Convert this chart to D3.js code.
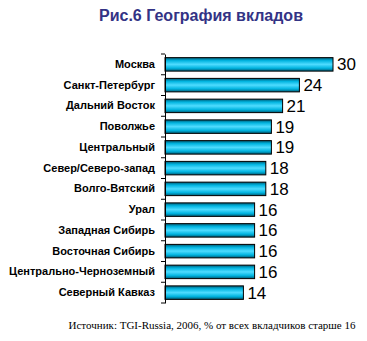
<!DOCTYPE html>
<html>
<head>
<meta charset="utf-8">
<script src="https://cdn.jsdelivr.net/npm/d3@7"></script>
<style>
  body { margin: 0; background: #fff; }
</style>
</head>
<body>
<div id="chart"></div>
<script>
// Chart data
var regions = ["Москва", "Санкт-Петербург", "Дальний Восток", "Поволжье", "Центральный",
  "Север/Северо-запад", "Волго-Вятский", "Урал", "Западная Сибирь", "Восточная Сибирь",
  "Центрально-Черноземный", "Северный Кавказ"];
var shares = [30, 24, 21, 19, 19, 18, 18, 16, 16, 16, 16, 14];
var title = "Рис.6 География вкладов";
var source = "Источник: TGI-Russia, 2006, % от всех вкладчиков старше 16";

var width = 367, height = 341;
var margin = {top: 54, right: 34, bottom: 38, left: 165};

var svg = d3.select("#chart")
  .append("svg")
    .attr("width", width)
    .attr("height", height);

// Gradient for bars
var grad = svg.append("defs").append("linearGradient")
  .attr("id", "barGrad")
  .attr("x1", 0).attr("y1", 0).attr("x2", 0).attr("y2", 1);
grad.append("stop").attr("offset", "0%").attr("stop-color", "#005a73");
grad.append("stop").attr("offset", "22%").attr("stop-color", "#00b4e0");
grad.append("stop").attr("offset", "50%").attr("stop-color", "#4fdcff");
grad.append("stop").attr("offset", "78%").attr("stop-color", "#00b4e0");
grad.append("stop").attr("offset", "100%").attr("stop-color", "#005a73");

// Scales
var x = d3.scaleLinear()
  .domain([0, 30])
  .range([margin.left, margin.left + 168]);

var y = d3.scaleBand()
  .domain(regions)
  .range([margin.top, height - margin.bottom])
  .paddingInner(0.35)
  .paddingOuter(0.175);

// Title
svg.append("text")
  .attr("x", 201)
  .attr("y", 21)
  .attr("text-anchor", "middle")
  .style("font-family", "Arial, 'Liberation Sans', sans-serif")
  .style("font-size", "16px")
  .style("font-weight", "bold")
  .style("fill", "#333385")
  .text(title);

// Bars
svg.selectAll("rect.bar")
  .data(regions)
  .enter()
  .append("rect")
    .attr("class", "bar")
    .attr("x", x(0))
    .attr("y", d => y(d))
    .attr("width", (d, i) => x(shares[i]) - x(0))
    .attr("height", y.bandwidth())
    .attr("fill", "url(#barGrad)")
    .attr("stroke", "#000")
    .attr("stroke-width", 1);

// Value labels
svg.selectAll("text.val")
  .data(regions)
  .enter()
  .append("text")
    .attr("class", "val")
    .attr("x", (d, i) => x(shares[i]) + 4)
    .attr("y", d => y(d) + y.bandwidth() / 2)
    .attr("dy", "0.36em")
    .style("font-family", "Arial, 'Liberation Sans', sans-serif")
    .style("font-size", "17px")
    .text((d, i) => shares[i]);

// Y axis with category labels
var y_axis = svg.append("g")
  .attr("transform", `translate(${margin.left},0)`)
  .call(d3.axisLeft(y).tickSize(0).tickPadding(10));
y_axis.select(".domain").attr("stroke", "#000");
y_axis.selectAll("text")
  .style("font-family", "Arial, 'Liberation Sans', sans-serif")
  .style("font-size", "11px")
  .style("font-weight", "bold")
  .style("fill", "#000");

// Tick marks between categories
var step = y.step();
var tickYs = d3.range(regions.length + 1).map(i => margin.top + i * step);
svg.selectAll("line.sep")
  .data(tickYs)
  .enter()
  .append("line")
    .attr("class", "sep")
    .attr("x1", margin.left - 4)
    .attr("x2", margin.left)
    .attr("y1", d => d)
    .attr("y2", d => d)
    .attr("stroke", "#000");

// Source note
svg.append("text")
  .attr("x", 212)
  .attr("y", 329)
  .attr("text-anchor", "middle")
  .style("font-family", "'Liberation Serif', 'Times New Roman', serif")
  .style("font-size", "11px")
  .style("fill", "#000")
  .text(source);
</script>
</body>
</html>
